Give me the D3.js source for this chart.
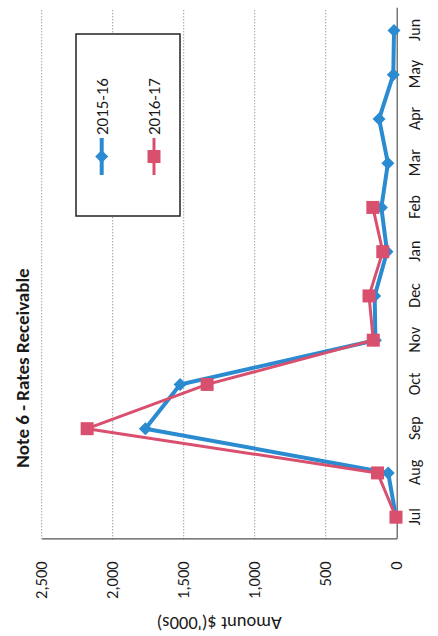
<!DOCTYPE html>
<html>
<head>
<meta charset="utf-8">
<script src="https://cdn.jsdelivr.net/npm/d3@7"></script>
<style>
  html, body { margin: 0; padding: 0; background: #fff; }
  svg { display: block; }
  text { font-family: Carlito, Lato, "Open Sans", sans-serif; fill: #1a1a1a; }
</style>
</head>
<body>
<svg id="chart" width="438" height="636"></svg>
<script>
// Rates receivable by month, $'000s
const months = ["Jul", "Aug", "Sep", "Oct", "Nov", "Dec", "Jan", "Feb", "Mar", "Apr", "May", "Jun"];
const values2015 = [5, 60, 1770, 1525, 150, 155, 68, 108, 62, 124, 24, 19];
const values2016 = [5, 135, 2180, 1335, 165, 195, 98, 168];
const yTicks = [0, 500, 1000, 1500, 2000, 2500];
const seriesNames = ["2015-16", "2016-17"];
const seriesColors = ["#2b8bd0", "#d9506f"];

const series = [
  { name: seriesNames[0], color: seriesColors[0], values: values2015, shape: "diamond", width: 4 },
  { name: seriesNames[1], color: seriesColors[1], values: values2016, shape: "square", width: 3 }
];

// The chart is laid out landscape (636 x 438) and turned a quarter-turn
// counter-clockwise onto the portrait page.
const W = 636, H = 438;
const svg = d3.select("#chart");
const g = svg.append("g").attr("transform", `translate(0,${W}) rotate(-90)`);

const plot = { left: 96.7, right: 627.7, top: 41.7, bottom: 396.7 };

const x = d3.scalePoint().domain(months).range([plot.left, plot.right]).padding(0.5);
const y = d3.scaleLinear().domain([0, 2500]).range([plot.bottom, plot.top]);

// dotted gridlines
g.append("g").selectAll("line")
  .data(yTicks.filter(d => d > 0))
  .join("line")
  .attr("x1", plot.left).attr("x2", plot.right)
  .attr("y1", d => y(d)).attr("y2", d => y(d))
  .attr("stroke", "#777").attr("stroke-width", 1)
  .attr("stroke-dasharray", "1,2");

// value axis
const yAxis = g.append("g")
  .attr("transform", `translate(${plot.left},0)`)
  .call(d3.axisLeft(y).tickValues(yTicks).tickSize(0).tickPadding(22).tickFormat(d3.format(",")));
yAxis.select(".domain").attr("stroke", "#555").attr("stroke-width", 1.2);
yAxis.selectAll("text").style("font-size", "16.5px").attr("fill", "#1a1a1a");

// month axis
const xAxis = g.append("g")
  .attr("transform", `translate(0,${plot.bottom})`)
  .call(d3.axisBottom(x).tickSize(0).tickPadding(12));
xAxis.select(".domain").attr("stroke", "#555").attr("stroke-width", 1.2);
xAxis.selectAll("text").style("font-size", "16px").attr("fill", "#1a1a1a");

// title
g.append("text")
  .attr("x", 268).attr("y", 29)
  .attr("text-anchor", "middle")
  .style("font-size", "19px").style("font-weight", "bold")
  .text("Note 6 - Rates Receivable");

// value axis title
g.append("text")
  .attr("transform", `translate(19,${(plot.top + plot.bottom) / 2}) rotate(-90)`)
  .attr("text-anchor", "middle")
  .style("font-size", "18.5px")
  .text("Amount $('000s)");

function drawMarker(sel, shape, color, cx, cy) {
  if (shape === "diamond") {
    const r = 6.5;
    sel.append("path")
      .attr("d", `M${cx},${cy - r}L${cx + r},${cy}L${cx},${cy + r}L${cx - r},${cy}Z`)
      .attr("fill", color);
  } else {
    const s = 13;
    sel.append("rect")
      .attr("x", cx - s / 2).attr("y", cy - s / 2)
      .attr("width", s).attr("height", s)
      .attr("fill", color);
  }
}

const line = d3.line().x((d, i) => x(months[i])).y(d => y(d));

series.forEach(s => {
  const sg = g.append("g");
  sg.append("path")
    .datum(s.values)
    .attr("d", line)
    .attr("fill", "none")
    .attr("stroke", s.color)
    .attr("stroke-width", s.width)
    .attr("stroke-linejoin", "round");
  s.values.forEach((v, i) => drawMarker(sg, s.shape, s.color, x(months[i]), y(v)));
});

// legend
const lg = g.append("g");
lg.append("rect")
  .attr("x", 420).attr("y", 76).attr("width", 182).attr("height", 104)
  .attr("fill", "#fff").attr("stroke", "#222").attr("stroke-width", 1.5);
series.forEach((s, i) => {
  const cy = 101.7 + i * 52.3;
  lg.append("line")
    .attr("x1", 461).attr("x2", 498).attr("y1", cy).attr("y2", cy)
    .attr("stroke", s.color).attr("stroke-width", s.width);
  drawMarker(lg, s.shape, s.color, 479.5, cy);
  lg.append("text")
    .attr("x", 501).attr("y", cy)
    .attr("dy", "0.35em")
    .style("font-size", "17px")
    .text(s.name);
});
</script>
</body>
</html>
